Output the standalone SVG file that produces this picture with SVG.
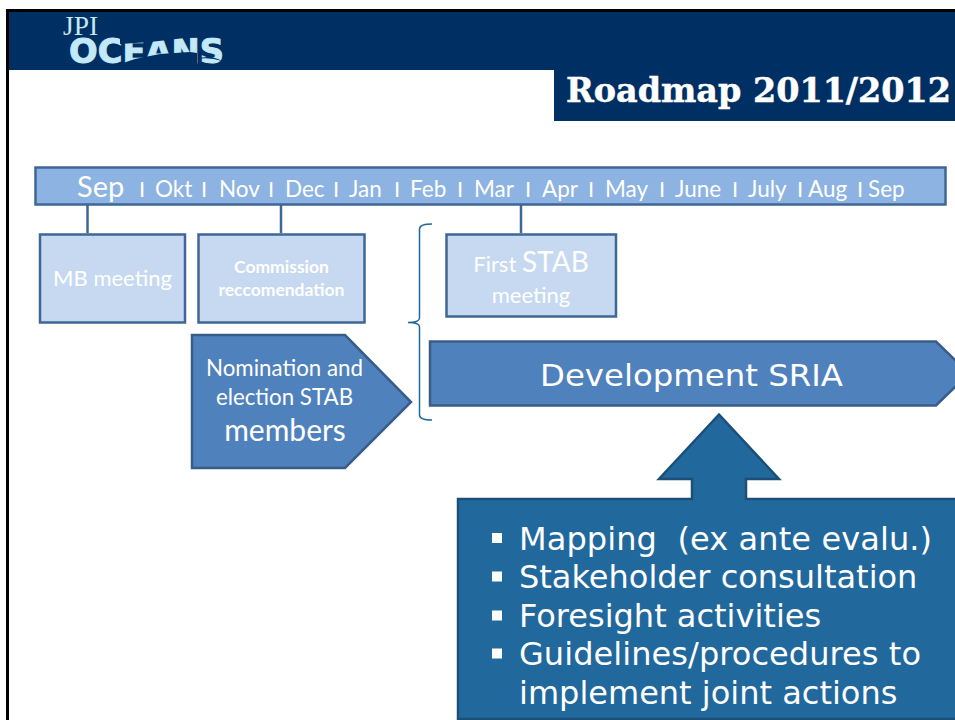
<svg xmlns="http://www.w3.org/2000/svg" width="955" height="720" viewBox="0 0 955 720">
<style>
.lato{font-family:"Lato","Carlito","Liberation Sans",sans-serif;fill:#fff}
.dv{font-family:"DejaVu Sans","Liberation Sans",sans-serif;fill:#fff}
.box{fill:#c6d9f1;stroke:#3e6797;stroke-width:2.5}
.dark{fill:#4f81bd;stroke:#385d8a;stroke-width:2.5}
.deep{fill:#21689d;stroke:#1c4f78;stroke-width:2.5}
.lnk{fill:none;stroke:#3e6797;stroke-width:2.5}
.m{font-size:22.5px}
.sep{font-size:22px}
</style>
<rect width="955" height="720" fill="#fff"/>
<g id="slide-frame">
<path d="M7.5 720V10.5H955" fill="none" stroke="#000" stroke-width="3"/>
<rect x="9" y="12" width="946" height="58" fill="#002f63"/>
</g>
<g id="logo">
<text x="63" y="35" font-family="Liberation Serif,serif" font-size="27" fill="#c3e8f8" textLength="35" lengthAdjust="spacingAndGlyphs">JPI</text>
<text x="69" y="63" font-family="DejaVu Sans,sans-serif" font-weight="bold" font-size="34" fill="#c3e8f8" stroke="#c3e8f8" stroke-width="1" textLength="155" lengthAdjust="spacingAndGlyphs">OCEANS</text>
<path d="M120 33V44L150 42L185 38L227 37V33Z" fill="#002f63"/>
<path d="M120 67V64L135 59L160 54L190 52L197 53V67ZM196 67V66H227V67Z" fill="#002f63"/>
<path d="M197 59Q210 54 222 61Q210 57 197 59Z" fill="#002f63"/>
</g>
<g id="title">
<rect x="554" y="70" width="401" height="51" fill="#002f63"/>
<text x="566" y="102" font-family="DejaVu Serif,serif" font-weight="bold" font-size="33" fill="#fff" stroke="#fff" stroke-width=".5" textLength="385" lengthAdjust="spacingAndGlyphs">Roadmap 2011/2012</text>
</g>
<g id="connectors">
<line class="lnk" x1="87.500" y1="205" x2="87.500" y2="233"/>
<line class="lnk" x1="281" y1="205" x2="281" y2="233"/>
<line class="lnk" x1="521" y1="205" x2="521" y2="233"/>
<path d="M432 224C424 224 419.500 225 419.500 229V318C419.500 321 417 322.500 408 322.500C417 322.500 419.500 324 419.500 327V415C419.500 419 424 420 432 420" fill="none" stroke="#21689d" stroke-width="1.500"/>
</g>
<g id="timeline">
<rect x="35.500" y="167.500" width="910" height="37" fill="#8db3e2" stroke="#3e6797" stroke-width="2.500"/>
<text class="lato" x="77" y="197" font-size="29">Sep</text>
<text class="lato sep" x="139" y="197">I</text><text class="lato m" x="155" y="197">Okt</text>
<text class="lato sep" x="201" y="197">I</text><text class="lato m" x="219" y="197">Nov</text>
<text class="lato sep" x="268" y="197">I</text><text class="lato m" x="285" y="197">Dec</text>
<text class="lato sep" x="333" y="197">I</text><text class="lato m" x="349" y="197">Jan</text>
<text class="lato sep" x="394" y="197">I</text><text class="lato m" x="410" y="197">Feb</text>
<text class="lato sep" x="457" y="197">I</text><text class="lato m" x="474" y="197">Mar</text>
<text class="lato sep" x="525" y="197">I</text><text class="lato m" x="542" y="197">Apr</text>
<text class="lato sep" x="588" y="197">I</text><text class="lato m" x="605" y="197">May</text>
<text class="lato sep" x="659" y="197">I</text><text class="lato m" x="675" y="197">June</text>
<text class="lato sep" x="732" y="197">I</text><text class="lato m" x="748" y="197">July</text>
<text class="lato sep" x="797" y="197">I</text><text class="lato m" x="808" y="197">Aug</text>
<text class="lato sep" x="857" y="197">I</text><text class="lato m" x="868" y="197">Sep</text>
</g>
<g id="mb-meeting">
<rect class="box" x="40" y="234.500" width="145" height="88"/>
<text class="lato" x="112.500" y="286" font-size="22" text-anchor="middle">MB meeting</text>
</g>
<g id="commission">
<rect class="box" x="198.500" y="234.500" width="166" height="88"/>
<text class="lato" x="281.500" y="273" font-size="17.500" font-weight="bold" text-anchor="middle">Commission</text>
<text class="lato" x="281.500" y="296" font-size="17.500" font-weight="bold" text-anchor="middle">reccomendation</text>
</g>
<g id="first-stab">
<rect class="box" x="446.500" y="234.500" width="169.500" height="82"/>
<text class="lato" x="531" y="272" font-size="22" text-anchor="middle">First <tspan font-size="28">STAB</tspan></text>
<text class="lato" x="531" y="303" font-size="22" text-anchor="middle">meeting</text>
</g>
<g id="nomination">
<path class="dark" d="M192 335H345L411 402L345 468H192Z"/>
<text class="lato" x="284.500" y="376" font-size="22.300" text-anchor="middle">Nomination and</text>
<text class="lato" x="284.500" y="405" font-size="22.300" text-anchor="middle">election STAB</text>
<text class="lato" x="285" y="441" font-size="30" text-anchor="middle">members</text>
</g>
<g id="development">
<path class="dark" d="M430 341.500H936L958 363V384L936 405.500H430Z"/>
<text class="dv" x="540" y="386" font-size="31" textLength="303" lengthAdjust="spacingAndGlyphs">Development SRIA</text>
</g>
<g id="activities">
<path class="deep" d="M458 499H692V479H659L719 414.500L779 479H746V499H957V719H458Z"/>
<g fill="#fff">
<rect x="492" y="533" width="10" height="10"/>
<rect x="492" y="571.500" width="10" height="10"/>
<rect x="492" y="610.500" width="10" height="10"/>
<rect x="492" y="648.500" width="10" height="10"/>
</g>
<text class="dv" x="519" y="550" font-size="32" textLength="413" xml:space="preserve">Mapping  (ex ante evalu.)</text>
<text class="dv" x="519" y="588" font-size="32">Stakeholder consultation</text>
<text class="dv" x="519" y="627" font-size="32">Foresight activities</text>
<text class="dv" x="519" y="665" font-size="32" textLength="402">Guidelines/procedures to</text>
<text class="dv" x="519" y="704" font-size="32">implement joint actions</text>
</g>
</svg>
